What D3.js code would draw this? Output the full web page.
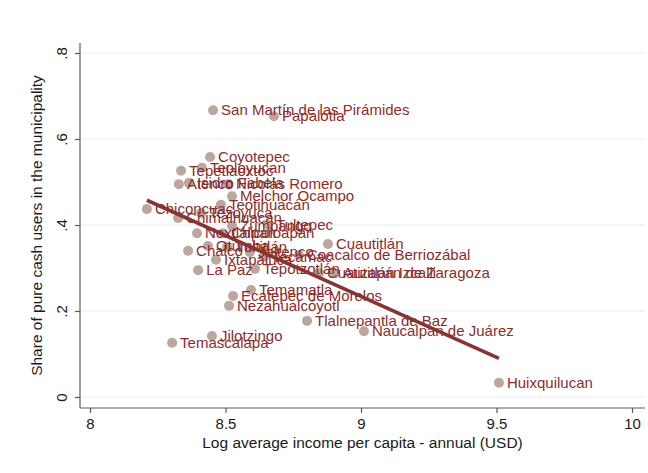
<!DOCTYPE html>
<html>
<head>
<meta charset="utf-8">
<script src="https://cdn.jsdelivr.net/npm/d3@7"></script>
<style>
  html, body { margin: 0; padding: 0; background: #ffffff; }
  svg { display: block; font-family: "Liberation Sans", Arial, Helvetica, sans-serif; }
</style>
</head>
<body>
<svg id="chart" width="648" height="473"></svg>
<script>
// Municipalities of the metropolitan area, log income vs. share of pure cash users
const municipalities = [
  "San Martín de las Pirámides", "Papalotla", "Coyotepec", "Teoloyucan", "Tepetlaoxtoc",
  "Atenco", "Isidro Fabela", "Nicolás Romero", "Melchor Ocampo", "Teotihuacán",
  "Chiconcuac", "Tezoyuca", "Chimalhuacán", "Zumpango", "Tultepec",
  "Nextlalpan", "Chicoloapan", "Cuautitlán", "Chalco", "Otumba",
  "Tultitlán", "Jaltenco", "Coacalco de Berriozábal", "Ixtapaluca", "Tecámac",
  "La Paz", "Tepotzotlán", "Cuautitlán Izcalli", "Atizapán de Zaragoza", "Temamatla",
  "Ecatepec de Morelos", "Nezahualcóyotl", "Tlalnepantla de Baz", "Naucalpan de Juárez", "Jilotzingo",
  "Temascalapa", "Huixquilucan"
];
const logIncome = [
  8.454, 8.679, 8.443, 8.413, 8.336,
  8.328, 8.365, 8.509, 8.524, 8.483,
  8.210, 8.410, 8.325, 8.524, 8.657,
  8.395, 8.491, 8.878, 8.362, 8.435,
  8.506, 8.590, 8.771, 8.465, 8.642,
  8.399, 8.609, 8.845, 8.904, 8.594,
  8.528, 8.513, 8.801, 9.011, 8.450,
  8.303, 9.509
];
const cashShare = [
  0.667, 0.653, 0.558, 0.533, 0.526,
  0.495, 0.498, 0.495, 0.467, 0.447,
  0.437, 0.428, 0.416, 0.398, 0.400,
  0.381, 0.381, 0.356, 0.340, 0.351,
  0.349, 0.337, 0.330, 0.319, 0.326,
  0.295, 0.298, 0.288, 0.288, 0.249,
  0.235, 0.212, 0.177, 0.153, 0.142,
  0.126, 0.033
];
const xTicks = [8, 8.5, 9, 9.5, 10];
const xTickLabels = ["8", "8.5", "9", "9.5", "10"];
const yTicks = [0, 0.2, 0.4, 0.6, 0.8];
const yTickLabels = ["0", ".2", ".4", ".6", ".8"];
// Linear fit: share = intercept + slope * log income
const fitIntercept = 2.781;
const fitSlope = -0.283;

const xTitle = "Log average income per capita - annual (USD)";
const yTitle = "Share of pure cash users in the municipality";

const svg = d3.select("#chart");
const frame = { left: 80, right: 645, top: 43, bottom: 408 };

const x = d3.scaleLinear().domain([8, 10]).range([90, 632]);
const y = d3.scaleLinear().domain([0, 0.8]).range([397, 53]);

const axisColor = "#5a5a5a";
const textColor = "#1a1a1a";

// horizontal grid lines
svg.append("g").selectAll("line")
  .data(yTicks)
  .join("line")
  .attr("x1", frame.left).attr("x2", frame.right)
  .attr("y1", d => y(d)).attr("y2", d => y(d))
  .attr("stroke", "#e6edf1").attr("stroke-width", 1);

// y axis
const yAxis = d3.axisLeft(y).tickValues(yTicks)
  .tickFormat((d, i) => yTickLabels[i]).tickSize(5).tickPadding(9);
const gy = svg.append("g").attr("transform", `translate(${frame.left},0)`).call(yAxis);
gy.select(".domain").remove();
gy.append("line").attr("x1", 0).attr("x2", 0)
  .attr("y1", frame.top).attr("y2", frame.bottom)
  .attr("stroke", axisColor).attr("stroke-width", 1.2);
gy.selectAll(".tick line").attr("stroke", axisColor).attr("stroke-width", 1.2);
gy.selectAll(".tick text")
  .attr("fill", textColor).attr("font-size", 15)
  .attr("text-anchor", "middle")
  .attr("transform", "rotate(-90)")
  .attr("x", 0).attr("y", -13)
  .attr("dy", 0);

// x axis
const xAxis = d3.axisBottom(x).tickValues(xTicks)
  .tickFormat((d, i) => xTickLabels[i]).tickSize(5).tickPadding(5);
const gx = svg.append("g").attr("transform", `translate(0,${frame.bottom})`).call(xAxis);
gx.select(".domain").remove();
gx.append("line").attr("x1", frame.left).attr("x2", frame.right)
  .attr("y1", 0).attr("y2", 0)
  .attr("stroke", axisColor).attr("stroke-width", 1.2);
gx.selectAll(".tick line").attr("stroke", axisColor).attr("stroke-width", 1.2);
gx.selectAll(".tick text").attr("fill", textColor).attr("font-size", 15);

// axis titles
svg.append("text")
  .attr("x", (frame.left + frame.right) / 2).attr("y", 448)
  .attr("text-anchor", "middle").attr("font-size", 15.5).attr("fill", textColor)
  .text(xTitle);
svg.append("text")
  .attr("transform", `translate(42,${(frame.top + frame.bottom) / 2}) rotate(-90)`)
  .attr("text-anchor", "middle").attr("font-size", 15.5).attr("fill", textColor)
  .text(yTitle);

const points = municipalities.map((name, i) => ({ name, xv: logIncome[i], yv: cashShare[i] }));

// markers
svg.append("g").selectAll("circle")
  .data(points)
  .join("circle")
  .attr("cx", d => x(d.xv)).attr("cy", d => y(d.yv))
  .attr("r", 5)
  .attr("fill", "#bca69f");

// marker labels
svg.append("g").selectAll("text")
  .data(points)
  .join("text")
  .attr("x", d => x(d.xv) + 8).attr("y", d => y(d.yv))
  .attr("dy", "0.35em")
  .attr("font-size", 15)
  .attr("fill", "#8a2d2d")
  .text(d => d.name);

// fitted line, drawn over the labelled markers
const xExtent = d3.extent(logIncome);
svg.append("line")
  .attr("x1", x(xExtent[0])).attr("y1", y(fitIntercept + fitSlope * xExtent[0]))
  .attr("x2", x(xExtent[1])).attr("y2", y(fitIntercept + fitSlope * xExtent[1]))
  .attr("stroke", "#873434").attr("stroke-width", 3.6);
</script>
</body>
</html>
